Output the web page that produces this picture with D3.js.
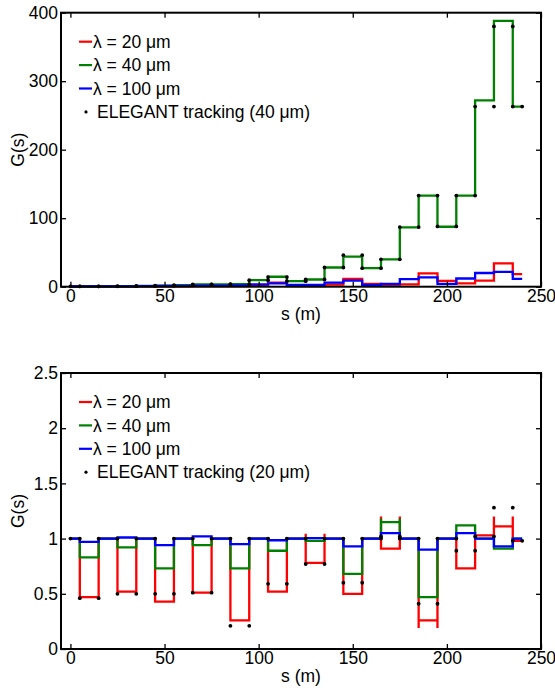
<!DOCTYPE html>
<html>
<head>
<meta charset="utf-8">
<script src="https://d3js.org/d3.v7.min.js"></script>
<style>
  body { margin: 0; background: #fff; }
  text { font-family: "Liberation Sans", Arial, sans-serif; }
</style>
</head>
<body>
<svg id="vis"></svg>

<script>
  // segment edges along s (m)
  var sEdges = [0, 5, 15, 25, 35, 45, 55, 65, 75, 85, 95, 105, 115, 125, 135,
                145, 155, 165, 175, 185, 195, 205, 215, 225, 235, 240];

  var legendTop = ['λ = 20 μm', 'λ = 40 μm', 'λ = 100 μm', 'ELEGANT tracking (40 μm)'];
  var legendBot = ['λ = 20 μm', 'λ = 40 μm', 'λ = 100 μm', 'ELEGANT tracking (20 μm)'];

  var xTicks = [0, 50, 100, 150, 200, 250];
  var yTicksTop = [0, 100, 200, 300, 400];
  var yTicksBot = [0, 0.5, 1, 1.5, 2, 2.5];

  // top panel: gain per segment
  var topRed   = [0.3, 0.3, 0.3, 0.3, 0.4, 0.5, 0.6, 0.8, 0.8, 1.0, 2.0, 6.0, 1.0,
                  1.0, 3.0, 11.5, 4, 2, 3.5, 19.5, 8.5, 5, 9, 34, 18.5];
  var topGreen = [0.5, 0.5, 0.6, 0.8, 1.0, 1.5, 2.2, 3.5, 3.2, 3.6, 9.5, 14.5, 8,
                  10.5, 28, 44, 27, 40, 86.5, 133, 87.5, 133, 272, 388, 263];
  var topBlue  = [0.3, 0.4, 0.5, 0.6, 0.8, 1.0, 1.2, 1.5, 1.5, 1.8, 3.5, 5, 2.5,
                  2.5, 6, 9, 2.5, 4, 11, 13.5, 4, 12, 20, 21.5, 11.5];
  var topDots  = [0.5, 0.5, 0.6, 0.8, 1.0, 1.5, 2.2, 3.5, 3.2, 3.6, 9.5, 14, 8,
                  10.5, 28, 46, 27, 40, 87, 133, 88, 133, 263, 380, 263];

  // bottom panel: gain per segment
  var botRed   = [1, 0.47, 1, 0.52, 1, 0.43, 1, 0.51, 1, 0.26, 1, 0.52, 1,
                  0.78, 1, 0.50, 1, 0.91, 1, 0.26, 1, 0.73, 1.03, 1.11, 0.98];
  var botGreen = [1, 0.83, 1, 0.92, 1, 0.73, 1, 0.94, 1, 0.73, 1, 0.89, 1,
                  0.98, 1, 0.68, 1, 1.15, 1, 0.47, 1, 1.12, 1, 0.91, 1];
  var botBlue  = [1, 0.97, 1, 1.01, 1, 0.94, 1, 1.02, 1, 0.95, 1, 0.985, 1,
                  1.005, 1, 0.93, 1, 1.05, 1, 0.90, 1, 1.05, 1, 0.93, 1];
  var botDots  = [1, 0.46, 1, 0.50, 1, 0.50, 1, 0.51, 1, 0.21, 1, 0.59, 1,
                  0.77, 1, 0.60, 1, 1.02, 1, 0.41, 1, 0.89, 1.02, 1.28, 0.98];
  // overshoot at segment edges (segment index -> value)
  var botRedEdge   = {13: 1.045, 17: 1.2, 19: 0.19, 23: 1.2};
  var botGreenEdge = {17: 1.18, 21: 1.13};

  var width = 555;
  var height = 690;
  var fontSize = 17.5;

  var svg = d3.select('#vis')
      .attr('width', width)
      .attr('height', height);

  var xscale = d3.scaleLinear()
      .domain([-5, 250])
      .range([61, 541]);

  function stepPoints(vals, edges) {
    var pts = [];
    edges = edges || {};
    vals.forEach(function(v, i) {
      var s0 = sEdges[i], s1 = sEdges[i + 1];
      var sp = edges[i];
      if (sp !== undefined) pts.push([s0, sp]);
      pts.push([s0, v]);
      pts.push([s1, v]);
      if (sp !== undefined) pts.push([s1, sp]);
    });
    return pts;
  }

  function dotPoints(vals) {
    var pts = [];
    vals.forEach(function(v, i) {
      pts.push([sEdges[i], v]);
      pts.push([sEdges[i + 1], v]);
    });
    return pts;
  }

  function panel(opt) {
    var g = svg.append('g');
    var yscale = d3.scaleLinear()
        .domain(opt.ydomain)
        .range([opt.y1, opt.y0]);

    var line = d3.line()
        .x(function(d) { return xscale(d[0]); })
        .y(function(d) { return yscale(d[1]); });

    var series = [
      {vals: opt.red, edge: opt.redEdge, color: '#ff0000'},
      {vals: opt.green, edge: opt.greenEdge, color: '#008000'},
      {vals: opt.blue, edge: null, color: '#0000ff'}
    ];

    g.selectAll('path.series')
        .data(series)
        .enter().append('path')
        .attr('class', 'series')
        .attr('d', function(d) { return line(stepPoints(d.vals, d.edge)); })
        .attr('fill', 'none')
        .attr('stroke', function(d) { return d.color; })
        .attr('stroke-width', 2.3)
        .attr('stroke-linejoin', 'miter');

    g.selectAll('circle')
        .data(dotPoints(opt.dots))
        .enter().append('circle')
        .attr('cx', function(d) { return xscale(d[0]); })
        .attr('cy', function(d) { return yscale(d[1]); })
        .attr('r', 1.9)
        .attr('fill', 'black');

    // axes with inward ticks on all four sides
    var fmt = function(d) { return String(d); };
    var ax = [
      {a: d3.axisBottom(xscale).tickValues(xTicks).tickFormat(fmt), t: 'translate(0,' + opt.y1 + ')'},
      {a: d3.axisTop(xscale).tickValues(xTicks).tickFormat(''), t: 'translate(0,' + opt.y0 + ')'},
      {a: d3.axisLeft(yscale).tickValues(opt.yticks).tickFormat(fmt), t: 'translate(61,0)'},
      {a: d3.axisRight(yscale).tickValues(opt.yticks).tickFormat(''), t: 'translate(541,0)'}
    ];
    ax.forEach(function(d) {
      var gg = g.append('g')
          .attr('transform', d.t)
          .call(d.a.tickSizeInner(-5).tickSizeOuter(0).tickPadding(3));
      gg.select('.domain').remove();
      gg.selectAll('line').attr('stroke', 'black').attr('stroke-width', 1.3);
      gg.selectAll('text')
          .attr('fill', 'black')
          .style('font-size', fontSize + 'px')
          .style('font-family', '"Liberation Sans", Arial, sans-serif');
    });

    // frame
    g.append('rect')
        .attr('x', 61)
        .attr('y', opt.y0)
        .attr('width', 480)
        .attr('height', opt.y1 - opt.y0)
        .attr('fill', 'none')
        .attr('stroke', 'black')
        .attr('stroke-width', 2);

    // axis titles
    g.append('text')
        .attr('x', 301)
        .attr('y', opt.y1 + 33)
        .attr('text-anchor', 'middle')
        .style('font-size', fontSize + 'px')
        .text('s (m)');

    g.append('text')
        .attr('transform', 'translate(24,' + ((opt.y0 + opt.y1) / 2) + ') rotate(-90)')
        .attr('text-anchor', 'middle')
        .style('font-size', fontSize + 'px')
        .text('G(s)');

    // legend
    var colors = ['#ff0000', '#008000', '#0000ff', null];
    var leg = g.selectAll('g.leg')
        .data(opt.legend)
        .enter().append('g')
        .attr('class', 'leg')
        .attr('transform', function(d, i) {
          return 'translate(79,' + (opt.y0 + 29 + i * 23.4) + ')';
        });
    leg.each(function(d, i) {
      var l = d3.select(this);
      if (colors[i]) {
        l.append('line')
            .attr('x1', 0).attr('x2', 13)
            .attr('y1', 0).attr('y2', 0)
            .attr('stroke', colors[i])
            .attr('stroke-width', 2.2);
      } else {
        l.append('circle')
            .attr('cx', 7).attr('cy', 0)
            .attr('r', 1.6)
            .attr('fill', 'black');
      }
      l.append('text')
          .attr('x', colors[i] ? 14 : 18)
          .attr('y', 0)
          .attr('dy', '0.35em')
          .style('font-size', fontSize + 'px')
          .text(d);
    });
  }

  panel({y0: 12.7, y1: 286.7, ydomain: [0, 400], yticks: yTicksTop,
         red: topRed, green: topGreen, blue: topBlue, dots: topDots,
         legend: legendTop});

  panel({y0: 373, y1: 649, ydomain: [0, 2.5], yticks: yTicksBot,
         red: botRed, green: botGreen, blue: botBlue, dots: botDots,
         redEdge: botRedEdge, greenEdge: botGreenEdge,
         legend: legendBot});
</script>
</body>
</html>
